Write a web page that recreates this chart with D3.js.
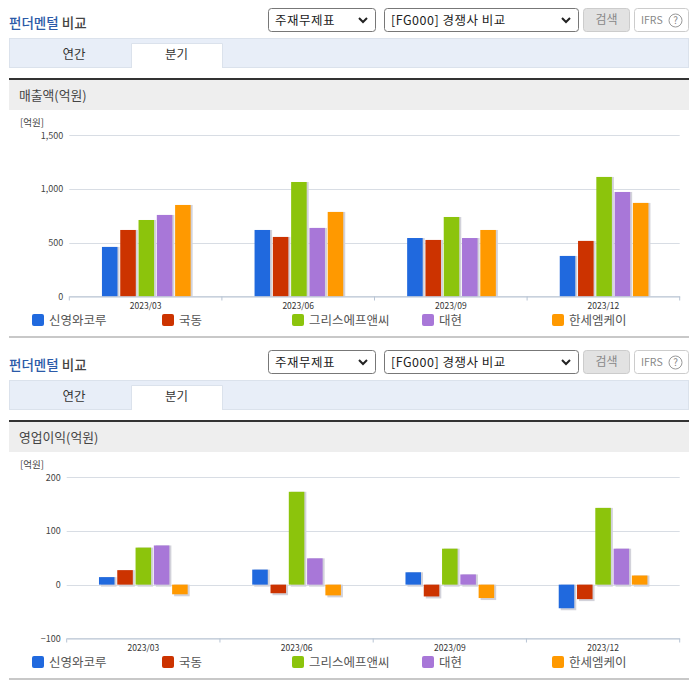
<!DOCTYPE html>
<html>
<head>
<meta charset="utf-8">
<script src="https://cdn.jsdelivr.net/npm/d3@7"></script>
<style>
    html, body { margin: 0; padding: 0; background: #fff; }
    svg { display: block; }
    text { font-family: "Noto Sans CJK KR", "Noto Sans", sans-serif; }
</style>
</head>
<body>
<svg id="page" width="696" height="684"></svg>
<script>
const periods = ['2023/03', '2023/06', '2023/09', '2023/12'];
const companies = ['신영와코루', '국동', '그리스에프앤씨', '대현', '한세엠케이'];
const colors = ['#2069de', '#cc3300', '#8cc40c', '#a877d8', '#ff9900'];

const salesTicks = [0, 500, 1000, 1500];
const salesValues = [
    [460, 618, 711, 758, 851],
    [618, 553, 1065, 637, 786],
    [543, 525, 739, 543, 618],
    [376, 516, 1112, 972, 870]
];

const profitTicks = [-100, 0, 100, 200];
const profitValues = [
    [14, 27, 69, 73, -18],
    [28, -16, 173, 49, -20],
    [23, -22, 67, 19, -25],
    [-44, -27, 143, 67, 17]
];

const svg = d3.select('#page');

function drawPanel(top, opts) {
    const g = svg.append('g').attr('transform', `translate(0,${top})`);

    // title
    const title = g.append('text').attr('x', 9).attr('y', 28).attr('font-size', 13.5).attr('font-weight', 500);
    title.append('tspan').attr('fill', '#2b5aa8').text('펀더멘털');
    title.append('tspan').attr('fill', '#444').text(' 비교');

    drawSelect(g, 268, 107, '주재무제표');
    drawSelect(g, 384, 194, '[FG000] 경쟁사 비교');

    // search and IFRS buttons
    g.append('rect').attr('x', 583.5).attr('y', 8.5).attr('width', 46).attr('height', 23).attr('rx', 3)
        .attr('fill', '#e2e2e2').attr('stroke', '#ccc');
    g.append('text').attr('x', 606.5).attr('y', 24).attr('text-anchor', 'middle')
        .attr('font-size', 12).attr('fill', '#888').text('검색');
    g.append('rect').attr('x', 634.5).attr('y', 8.5).attr('width', 54).attr('height', 23).attr('rx', 3)
        .attr('fill', '#fff').attr('stroke', '#ccc');
    g.append('text').attr('x', 641).attr('y', 24).attr('font-size', 10.5).attr('fill', '#888').text('IFRS');
    g.append('circle').attr('cx', 675.5).attr('cy', 20.5).attr('r', 6.5).attr('fill', 'none').attr('stroke', '#999');
    g.append('text').attr('x', 675.5).attr('y', 24).attr('text-anchor', 'middle')
        .attr('font-size', 10).attr('fill', '#888').text('?');

    // tabs
    g.append('rect').attr('x', 9.5).attr('y', 38.5).attr('width', 679).attr('height', 29)
        .attr('fill', '#e8eef8').attr('stroke', '#dbe2ec');
    g.append('path').attr('d', 'M131.5,68V43.5H222.5V68').attr('fill', '#fff').attr('stroke', '#dbe2ec');
    g.append('text').attr('x', 74).attr('y', 59).attr('text-anchor', 'middle')
        .attr('font-size', 12.5).attr('fill', '#333').text('연간');
    g.append('text').attr('x', 176.5).attr('y', 59).attr('text-anchor', 'middle')
        .attr('font-size', 12.5).attr('fill', '#333').text('분기');

    // chart header
    g.append('rect').attr('x', 9).attr('y', 80).attr('width', 680).attr('height', 30).attr('fill', '#eeeeee');
    g.append('rect').attr('x', 9).attr('y', 78).attr('width', 680).attr('height', 2).attr('fill', '#333');
    g.append('text').attr('x', 19).attr('y', 100).attr('font-size', 12.8).attr('fill', '#444').text(opts.title);

    g.append('text').attr('x', 20).attr('y', 126).attr('font-size', 9.5).attr('fill', '#444').text('[억원]');

    drawChart(g, opts);
    drawLegend(g);

    g.append('rect').attr('x', 9).attr('y', 336).attr('width', 680).attr('height', 2).attr('fill', '#c8c8c8');
}

function drawSelect(g, x, width, label) {
    g.append('rect').attr('x', x + 0.5).attr('y', 8.5).attr('width', width).attr('height', 23).attr('rx', 3)
        .attr('fill', '#fff').attr('stroke', '#777');
    g.append('text').attr('x', x + 7).attr('y', 24.5).attr('font-size', 12.5).attr('letter-spacing', 0.5)
        .attr('fill', '#222').text(label);
    const ax = x + width - 12;
    g.append('path').attr('d', `M${ax - 4},18L${ax},22L${ax + 4},18`)
        .attr('fill', 'none').attr('stroke', '#222').attr('stroke-width', 2);
}

function drawChart(g, opts) {
    const y = d3.scaleLinear().domain(opts.domain).range([296.3, 135.3]);
    const x0 = d3.scaleBand().domain(periods).range([opts.left, 679.7]);
    const x1 = d3.scaleBand().domain(companies).range([0, 88.7]).paddingInner(0.15);
    const base = y(opts.domain[0]);
    const zero = y(0);

    // gridlines
    g.append('g').selectAll('line').data(opts.ticks).join('line')
        .attr('x1', opts.left).attr('x2', 679.7)
        .attr('y1', d => Math.round(y(d)) + 0.5).attr('y2', d => Math.round(y(d)) + 0.5)
        .attr('stroke', '#d8dde4');

    const yAxis = d3.axisLeft(y).tickValues(opts.ticks).tickSize(0).tickPadding(0).tickFormat(d3.format(','));
    const ya = g.append('g').attr('transform', `translate(${opts.left - 6},0)`).call(yAxis);
    ya.select('.domain').remove();
    ya.selectAll('text').attr('font-size', 9).attr('fill', '#444');

    // bars, shadow first
    const groups = g.append('g').selectAll('g').data(opts.values).join('g')
        .attr('transform', (d, i) => `translate(${x0(periods[i]) + (x0.bandwidth() - 88.7) / 2 + opts.nudge},0)`);
    const bars = groups.selectAll('g').data(d => d).join('g');
    bars.append('rect')
        .attr('x', (d, i) => x1(companies[i]) + 2)
        .attr('y', d => Math.min(y(d), zero))
        .attr('width', x1.bandwidth())
        .attr('height', d => Math.min(Math.max(y(d), zero) + 2, base) - Math.min(y(d), zero))
        .attr('fill', '#d2d2da');
    bars.append('rect')
        .attr('x', (d, i) => x1(companies[i]))
        .attr('y', d => Math.min(y(d), zero))
        .attr('width', x1.bandwidth())
        .attr('height', d => Math.abs(y(d) - zero))
        .attr('fill', (d, i) => colors[i]);

    // category axis
    const xAxis = d3.axisBottom(x0).tickSize(0).tickPadding(6);
    const xa = g.append('g').attr('transform', `translate(0,${Math.round(base) + 0.5})`).call(xAxis);
    xa.select('.domain').attr('stroke', '#b8c4d4');
    xa.selectAll('text').attr('font-size', 8.5).attr('fill', '#333');
    xa.append('g').selectAll('line').data(d3.range(periods.length + 1)).join('line')
        .attr('x1', i => opts.left + i * x0.step()).attr('x2', i => opts.left + i * x0.step())
        .attr('y1', 0).attr('y2', 4).attr('stroke', '#b8c4d4');
}

function drawLegend(g) {
    const legend = d3.scaleBand().domain(companies).range([32, 682]);
    const items = g.append('g').selectAll('g').data(companies).join('g')
        .attr('transform', d => `translate(${legend(d)},314)`);
    items.append('rect').attr('width', 12).attr('height', 12).attr('rx', 2).attr('fill', (d, i) => colors[i]);
    items.append('text').attr('x', 17).attr('y', 11).attr('font-size', 12.5).attr('fill', '#555').text(d => d);
}

drawPanel(0, { title: '매출액(억원)', domain: [0, 1500], ticks: salesTicks, values: salesValues, left: 69.3, nudge: 0.7 });
drawPanel(342, { title: '영업이익(억원)', domain: [-100, 200], ticks: profitTicks, values: profitValues, left: 66.7, nudge: 0 });
</script>
</body>
</html>
